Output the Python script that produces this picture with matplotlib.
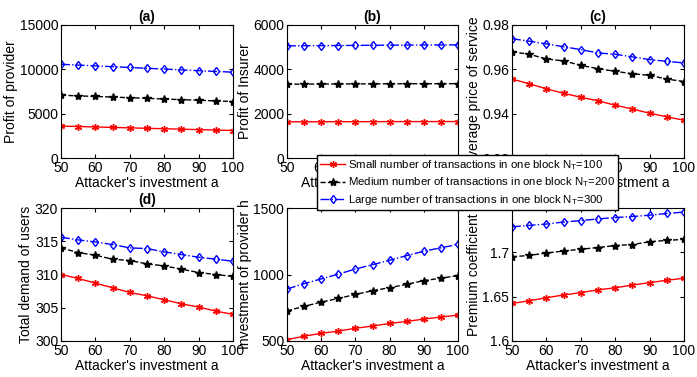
import matplotlib
matplotlib.use('Agg')
import matplotlib.pyplot as plt
from matplotlib.lines import Line2D

plt.rcParams['font.family'] = ['Liberation Sans', 'DejaVu Sans']
plt.rcParams['font.size'] = 9

# attacker's investment a
a = [50, 55, 60, 65, 70, 75, 80, 85, 90, 95, 100]

# (a) profit of provider
prov_small = [3600, 3550, 3500, 3450, 3400, 3350, 3300, 3250, 3200, 3150, 3100]
prov_med = [7080, 7010, 6940, 6870, 6800, 6730, 6650, 6580, 6510, 6440, 6370]
prov_large = [10570, 10480, 10390, 10300, 10210, 10120, 10030, 9940, 9850, 9760, 9680]

# (b) profit of insurer
ins_small = [1630, 1632, 1634, 1636, 1638, 1640, 1641, 1642, 1643, 1644, 1645]
ins_med = [3330, 3333, 3336, 3339, 3342, 3345, 3347, 3349, 3350, 3351, 3352]
ins_large = [5060, 5065, 5070, 5075, 5080, 5085, 5090, 5095, 5100, 5100, 5105]

# (c) average price of service
price_small = [0.9556, 0.9535, 0.9512, 0.9492, 0.9474, 0.9458, 0.9438, 0.9421, 0.9402, 0.9386, 0.9370]
price_med = [0.9679, 0.9668, 0.9647, 0.9638, 0.9618, 0.9603, 0.9591, 0.9580, 0.9573, 0.9556, 0.9545]
price_large = [0.9738, 0.9727, 0.9715, 0.9702, 0.9689, 0.9674, 0.9668, 0.9656, 0.9644, 0.9636, 0.9629]

# (d) total demand of users
dem_small = [310.0, 309.4, 308.7, 308.0, 307.3, 306.8, 306.2, 305.6, 305.1, 304.5, 304.0]
dem_med = [314.0, 313.3, 312.9, 312.3, 312.1, 311.6, 311.3, 310.8, 310.3, 310.0, 309.7]
dem_large = [315.6, 315.2, 314.9, 314.5, 314.0, 313.9, 313.4, 313.0, 312.6, 312.3, 312.0]

# (e) investment of provider h
inv_small = [510, 536, 558, 574, 596, 612, 632, 647, 665, 680, 695]
inv_med = [726, 761, 792, 820, 850, 878, 901, 926, 954, 972, 992]
inv_large = [891, 931, 967, 1003, 1041, 1074, 1107, 1142, 1175, 1201, 1226]

# (f) premium coefficient
prem_small = [1.6423, 1.6454, 1.6488, 1.6519, 1.6546, 1.6577, 1.6600, 1.6631, 1.6658, 1.6685, 1.6708]
prem_med = [1.6950, 1.6965, 1.6992, 1.7015, 1.7035, 1.7054, 1.7077, 1.7088, 1.7119, 1.7135, 1.7146]
prem_large = [1.7288, 1.7304, 1.7319, 1.7342, 1.7358, 1.7377, 1.7392, 1.7404, 1.7419, 1.7438, 1.7454]

legend_labels = ['Small number of transactions in one block N$_\\mathregular{T}$=100',
                 'Medium number of transactions in one block N$_\\mathregular{T}$=200',
                 'Large number of transactions in one block N$_\\mathregular{T}$=300']

panels = [
    ('(a)', 'Profit of provider', (prov_small, prov_med, prov_large), (0, 15000),
     [0, 5000, 10000, 15000], ['0', '5000', '10000', '15000']),
    ('(b)', 'Profit of Insurer', (ins_small, ins_med, ins_large), (0, 6000),
     [0, 2000, 4000, 6000], ['0', '2000', '4000', '6000']),
    ('(c)', 'Average price of service', (price_small, price_med, price_large), (0.92, 0.98),
     [0.92, 0.94, 0.96, 0.98], ['0.92', '0.94', '0.96', '0.98']),
    ('(d)', 'Total demand of users', (dem_small, dem_med, dem_large), (300, 320),
     [300, 305, 310, 315, 320], ['300', '305', '310', '315', '320']),
    ('', 'Investment of provider h', (inv_small, inv_med, inv_large), (500, 1500),
     [500, 1000, 1500], ['500', '1000', '1500']),
    ('', 'Premium coefficient', (prem_small, prem_med, prem_large), (1.6, 1.75),
     [1.6, 1.65, 1.7], ['1.6', '1.65', '1.7']),
]

W, H = 697, 377
fig = plt.figure(figsize=(W / 100, H / 100), dpi=100)

lefts = [61, 287, 512]
widths = [172, 171, 172]
tops = [25, 208]
height = 133

asterisk = (6, 2, 0)
styles = [
    dict(color='red', linestyle='-', marker=asterisk, markersize=5, linewidth=1),
    dict(color='black', linestyle='--', marker='*', markersize=6, linewidth=1),
    dict(color='blue', linestyle='-.', marker='d', markersize=4.5, markerfacecolor='none', linewidth=1),
]

for i, (title, ylabel, series, ylim, yticks, ylabels) in enumerate(panels):
    r, c = divmod(i, 3)
    x0 = lefts[c] / W
    y0 = 1 - (tops[r] + height) / H
    ax = fig.add_axes([x0, y0, widths[c] / W, height / H])
    for ys, st in zip(series, styles):
        ax.plot(a, ys, **st)
    ax.set_xlim(50, 100)
    ax.set_ylim(*ylim)
    ax.set_xticks([50, 60, 70, 80, 90, 100])
    ax.set_yticks(yticks)
    ax.set_yticklabels(ylabels)
    ax.tick_params(direction='in', top=True, right=True, labelsize=10, length=3, pad=2)
    ax.set_xlabel("Attacker's investment a", fontsize=10, labelpad=1)
    ax.set_ylabel(ylabel, fontsize=10, labelpad=1)
    if title:
        ax.set_title(title, fontsize=10, fontweight='bold', pad=3)
    for s in ax.spines.values():
        s.set_linewidth(0.8)

handles = [Line2D([], [], **st) for st in styles]
fig.legend(handles, legend_labels, loc='upper left',
           bbox_to_anchor=(317 / W, 1 - 155 / H), fontsize=8.2,
           frameon=True, fancybox=False, edgecolor='black', framealpha=1,
           handlelength=2.2, handletextpad=0.2, borderpad=0.3, labelspacing=0.3,
           borderaxespad=0)

fig.savefig('out.png', dpi=100)
